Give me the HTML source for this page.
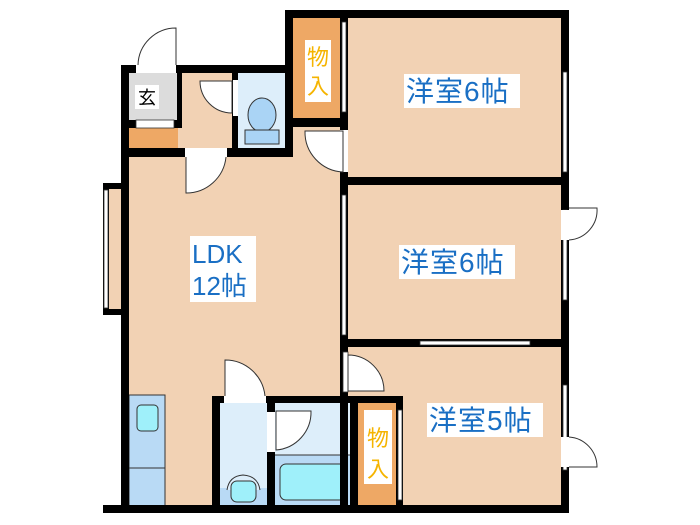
<!DOCTYPE html>
<html><head><meta charset="utf-8"><style>
html,body{margin:0;padding:0;background:#fff;width:700px;height:525px;overflow:hidden}
svg{display:block}
.t{font-family:"Liberation Sans","Noto Sans CJK JP",sans-serif;fill:#1a6fc4}
.y{font-family:"Liberation Sans","Noto Sans CJK JP",sans-serif;fill:#f5b400}
</style></head><body>
<svg width="700" height="525" viewBox="0 0 700 525" xmlns="http://www.w3.org/2000/svg">
<g fill="#f2d2b4">
<rect x="129" y="157" width="215" height="350"/>
<rect x="293" y="125" width="51" height="34"/>
<rect x="344" y="18" width="220" height="490"/>
<rect x="178" y="73" width="58" height="80"/>
<rect x="108" y="185" width="20" height="128"/>
</g>
<rect x="129" y="73" width="50" height="52" fill="#dcdcdc"/>
<rect x="129" y="128" width="49" height="20" fill="#eea865"/>
<rect x="236" y="73" width="50" height="80" fill="#ddeefa"/>
<rect x="293" y="18" width="48" height="102" fill="#eea865"/>
<rect x="358" y="403" width="40" height="103" fill="#eea865"/>
<rect x="220" y="403" width="48" height="103" fill="#ddeefa"/>
<rect x="220" y="488" width="48" height="18" fill="#b9daf5"/>
<rect x="275" y="403" width="76" height="103" fill="#ddeefa"/>
<rect x="275" y="455" width="76" height="51" fill="#b9daf5"/>
<rect x="129" y="395" width="36" height="111" fill="#b9daf5" stroke="#333" stroke-width="1"/>
<line x1="129" y1="468" x2="165" y2="468" stroke="#333"/>
<rect x="137" y="405" width="21" height="26" rx="4" fill="#9ff0fa" stroke="#333"/>
<ellipse cx="262" cy="115" rx="14" ry="17" fill="#aad4f5" stroke="#333"/>
<rect x="245" y="130" width="34" height="14" fill="#aad4f5" stroke="#333"/>
<path d="M227 490 Q229 476 243 475 Q258 476 260 490" fill="#ddeefa" stroke="#333"/>
<rect x="231" y="481" width="25" height="21" rx="6" fill="#9ff0fa" stroke="#333"/>
<rect x="280" y="464" width="66" height="36" rx="6" fill="#9ff0fa" stroke="#333"/>
<line x1="275" y1="455" x2="351" y2="455" stroke="#333"/>
<g fill="#000">
<rect x="285" y="10" width="284" height="8"/>
<rect x="561" y="10" width="8" height="503"/>
<rect x="103" y="505" width="466" height="8"/>
<rect x="121" y="65" width="8" height="448"/>
<rect x="121" y="65" width="172" height="8"/>
<rect x="285" y="10" width="8" height="147"/>
<rect x="121" y="148" width="172" height="9"/>
<rect x="121" y="120" width="58" height="8"/>
<rect x="177" y="73" width="5" height="55"/>
<rect x="232" y="73" width="6" height="80"/>
<rect x="293" y="118" width="55" height="9"/>
<rect x="340" y="18" width="8" height="495"/>
<rect x="340" y="177" width="229" height="8"/>
<rect x="340" y="339" width="229" height="8"/>
<rect x="103" y="183" width="26" height="6"/>
<rect x="103" y="309" width="26" height="6"/>
<rect x="103" y="183" width="6" height="132"/>
<rect x="212" y="396" width="191" height="7"/>
<rect x="212" y="396" width="8" height="117"/>
<rect x="267" y="403" width="8" height="110"/>
<rect x="350" y="403" width="8" height="110"/>
<rect x="396" y="396" width="7" height="117"/>
</g>
<g fill="#fff" stroke="#333" stroke-width="0.8">
<rect x="136" y="120" width="38" height="8"/>
<rect x="104" y="190" width="4" height="118"/>
<rect x="342" y="22" width="4" height="90"/>
<rect x="342" y="195" width="4" height="140"/>
<rect x="563" y="72" width="4" height="100"/>
<rect x="563" y="210" width="4" height="90"/>
<rect x="420" y="341" width="110" height="4"/>
<rect x="563" y="385" width="4" height="85"/>
<rect x="398" y="410" width="4" height="90"/>
<rect x="343" y="352" width="5" height="40"/>
</g>
<g fill="#fff">
<rect x="136" y="65" width="40" height="8"/>
<rect x="185" y="148" width="42" height="9"/>
<rect x="233" y="80" width="5" height="36"/>
<rect x="340" y="130" width="8" height="42"/>
<rect x="224" y="396" width="42" height="7"/>
<rect x="267" y="412" width="8" height="40"/>
<rect x="561" y="210" width="8" height="30"/>
<rect x="561" y="437" width="8" height="30"/>
</g>
<g fill="#fff" stroke="#333" stroke-width="1">
<path d="M176 65 L176 28 A38 38 0 0 0 138 65"/>
<path d="M232 81 L200 81 A32 32 0 0 0 232 113 Z"/>
<path d="M186 157 L186 193 A40 40 0 0 0 226 157"/>
<path d="M343 131 L343 172 A40 40 0 0 1 305 131 Z"/>
<path d="M225 396 L225 360 A40 40 0 0 1 265 396"/>
<path d="M276 411 L311 411 A38 38 0 0 1 276 450 Z"/>
<path d="M348 355 A36 36 0 0 1 384 391 L348 391 Z"/>
<path d="M569 208 L597 208 A30 30 0 0 1 569 240"/>
<path d="M569 437 A30 30 0 0 1 597 467 L569 467"/>
</g>
<rect x="135" y="85" width="24" height="24" fill="#fff"/>
<text x="147" y="104" font-size="18" text-anchor="middle" font-family="Liberation Sans,Noto Sans CJK JP,sans-serif">玄</text>
<rect x="305" y="40" width="26" height="62" fill="#fff"/>
<text class="y" x="318" y="65" font-size="22" text-anchor="middle">物</text>
<text class="y" x="318" y="94" font-size="22" text-anchor="middle">入</text>
<rect x="364" y="410" width="28" height="74" fill="#fff"/>
<text class="y" x="378" y="446" font-size="22" text-anchor="middle">物</text>
<text class="y" x="378" y="477" font-size="22" text-anchor="middle">入</text>
<rect x="190" y="236" width="66" height="66" fill="#fff"/>
<text class="t" x="192" y="263" font-size="26">LDK</text>
<text class="t" x="192" y="295" font-size="26">12帖</text>
<rect x="404" y="74" width="116" height="34" fill="#fff"/>
<text class="t" x="406" y="101" font-size="28" letter-spacing="1">洋室6帖</text>
<rect x="399" y="245" width="116" height="34" fill="#fff"/>
<text class="t" x="401" y="272" font-size="28" letter-spacing="1">洋室6帖</text>
<rect x="427" y="403" width="116" height="34" fill="#fff"/>
<text class="t" x="429" y="430" font-size="28" letter-spacing="1">洋室5帖</text>
</svg>
</body></html>
